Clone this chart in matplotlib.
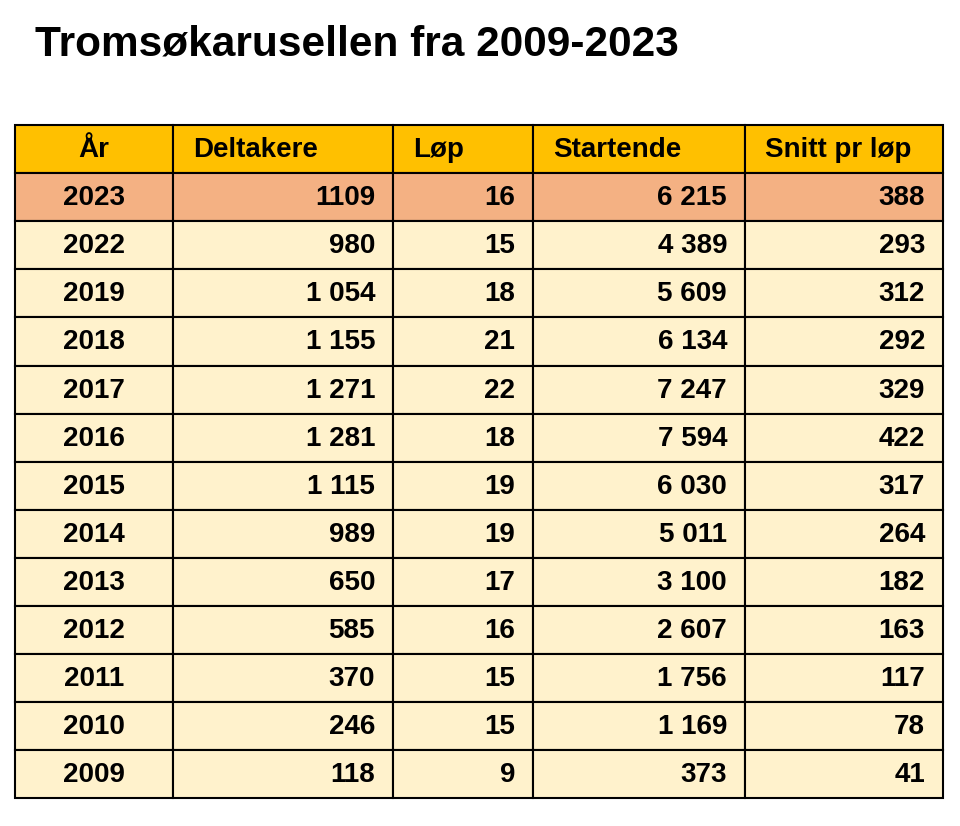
import matplotlib
matplotlib.use("Agg")
import matplotlib.pyplot as plt
from matplotlib.patches import Rectangle

TITLE = "Tromsøkarusellen fra 2009-2023"
HEADERS = ["År", "Deltakere", "Løp", "Startende", "Snitt pr løp"]
YEARS = ["2023", "2022", "2019", "2018", "2017", "2016", "2015", "2014", "2013", "2012", "2011", "2010", "2009"]
DELTAKERE = ["1109", "980", "1 054", "1 155", "1 271", "1 281", "1 115", "989", "650", "585", "370", "246", "118"]
LOP = ["16", "15", "18", "21", "22", "18", "19", "19", "17", "16", "15", "15", "9"]
STARTENDE = ["6 215", "4 389", "5 609", "6 134", "7 247", "7 594", "6 030", "5 011", "3 100", "2 607", "1 756", "1 169", "373"]
SNITT = ["388", "293", "312", "292", "329", "422", "317", "264", "182", "163", "117", "78", "41"]

COLS = [15, 173, 393, 533, 745, 943]
TOP, ROW_H = 125, 48.1
HEAD_C, HIGHLIGHT_C, BODY_C = "#FFC000", "#F4B183", "#FFF2CC"

plt.rcParams["font.family"] = "Liberation Sans"
fig = plt.figure(figsize=(9.6, 8.26), dpi=100)
ax = fig.add_axes([0, 0, 1, 1])
ax.set_xlim(0, 960); ax.set_ylim(826, 0); ax.axis("off")

ax.text(35, 45, TITLE, fontsize=30.5, fontweight="bold", va="center", ha="left")

rows = [HEADERS] + [list(r) for r in zip(YEARS, DELTAKERE, LOP, STARTENDE, SNITT)]
for i, row in enumerate(rows):
    y0 = TOP + i * ROW_H
    color = HEAD_C if i == 0 else (HIGHLIGHT_C if i == 1 else BODY_C)
    for j, txt in enumerate(row):
        x0, x1 = COLS[j], COLS[j + 1]
        ax.add_patch(Rectangle((x0, y0), x1 - x0, ROW_H, facecolor=color, edgecolor="black", lw=1.5))
        yc = y0 + ROW_H / 2 + 1
        if j == 0:
            ax.text((x0 + x1) / 2, yc, txt, ha="center", va="center", fontsize=20, fontweight="bold")
        elif i == 0:
            ax.text(x0 + 20, yc, txt, ha="left", va="center", fontsize=20, fontweight="bold")
        else:
            ax.text(x1 - 18, yc, txt, ha="right", va="center", fontsize=20, fontweight="bold")

fig.savefig("out.png", dpi=100)
